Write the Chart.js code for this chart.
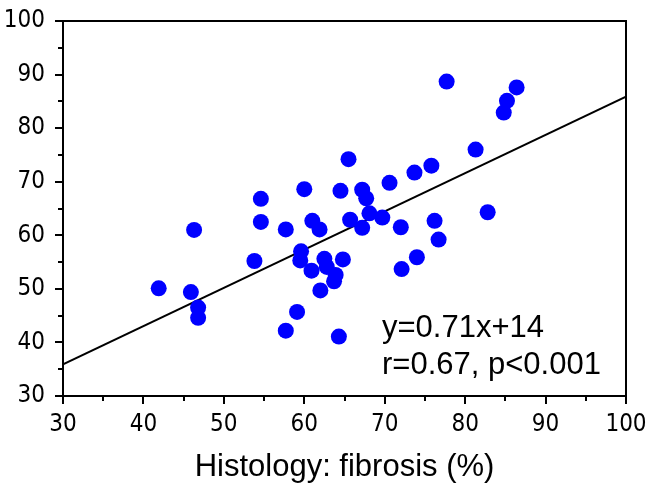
<!DOCTYPE html>
<html>
<head>
<meta charset="utf-8">
<script src="https://cdn.jsdelivr.net/npm/chart.js@4"></script>
<style>
  html, body { margin: 0; padding: 0; background: #fff; }
  canvas { display: block; }
</style>
</head>
<body>
<canvas id="c" width="646" height="486"></canvas>
<script>
// histology fibrosis (%) and the measured value, one entry per patient
const fibrosisX = [41.9, 45.9, 46.3, 46.8, 46.8, 53.8, 54.6, 54.6, 57.7, 57.7,
  59.1, 59.6, 59.5, 60.0, 61.0, 61.9, 60.9, 62.0, 62.5, 62.8,
  63.7, 63.9, 64.3, 64.5, 64.8, 65.5, 65.7, 67.2, 67.7, 67.2,
  68.1, 69.7, 70.6, 72.0, 72.1, 73.7, 74.0, 75.8, 76.2, 76.7,
  77.7, 81.3, 82.8, 84.8, 85.2, 86.4]
const measuredY = [50.1, 49.4, 61.0, 46.5, 44.6, 55.2, 66.8, 62.5, 61.1, 42.2,
  45.7, 57.0, 55.3, 68.6, 62.7, 61.1, 53.4, 49.7, 55.6, 54.1,
  51.4, 52.6, 41.1, 68.3, 55.5, 74.2, 62.9, 68.5, 66.9, 61.4,
  64.1, 63.3, 69.8, 61.5, 53.7, 71.7, 55.9, 73.0, 62.7, 59.2,
  88.7, 76.0, 64.3, 82.9, 85.1, 87.6]

// regression line end points as drawn
const fitX = [30, 100]
const fitY = [35.9, 85.9]

const axisMin = 30
const axisMax = 100
const majorStep = 10
const minorStep = 5

const fitLabel = 'y=0.71x+14'
const statLabel = 'r=0.67, p<0.001'
const xTitle = 'Histology: fibrosis (%)'

const FONT = '"Liberation Sans", Arial, sans-serif'
const TICK_FONT = '"Liberation Sans Narrow", "DejaVu Sans Condensed", "Liberation Sans", sans-serif'

// box round the plot, plus major / minor tick marks and the fit text
const frameAndTicks = {
  id: 'frameAndTicks',
  afterDatasetsDraw(chart) {
    const { ctx, chartArea: a, scales: { x, y } } = chart
    ctx.save()
    ctx.strokeStyle = '#000'
    ctx.lineWidth = 2
    ctx.strokeRect(a.left, a.top, a.right - a.left, a.bottom - a.top)

    ctx.beginPath()
    for (let v = axisMin; v <= axisMax; v += minorStep) {
      const len = v % majorStep === 0 ? 8 : 5
      const px = Math.round(x.getPixelForValue(v))
      ctx.moveTo(px, a.bottom)
      ctx.lineTo(px, a.bottom + len)
      const py = Math.round(y.getPixelForValue(v))
      ctx.moveTo(a.left, py)
      ctx.lineTo(a.left - len, py)
    }
    ctx.stroke()

    ctx.fillStyle = '#000'
    ctx.font = '31px ' + FONT
    ctx.textAlign = 'left'
    ctx.textBaseline = 'alphabetic'
    ctx.fillText(fitLabel, 382, 337)
    ctx.fillText(statLabel, 382, 374)
    ctx.restore()
  }
}

const points = fibrosisX.map((v, i) => ({ x: v, y: measuredY[i] }))
const fitLine = fitX.map((v, i) => ({ x: v, y: fitY[i] }))

new Chart(document.getElementById('c'), {
  type: 'scatter',
  data: {
    datasets: [
      {
        data: points,
        pointRadius: 8,
        pointHoverRadius: 8,
        pointBackgroundColor: '#0000ff',
        pointBorderWidth: 0
      },
      {
        data: fitLine,
        showLine: true,
        pointRadius: 0,
        borderColor: '#000',
        borderWidth: 2
      }
    ]
  },
  options: {
    responsive: false,
    animation: false,
    layout: { padding: { top: 21, right: 20, bottom: 0, left: 0 } },
    plugins: { legend: { display: false }, tooltip: { enabled: false } },
    scales: {
      x: {
        type: 'linear',
        min: axisMin,
        max: axisMax,
        grid: { display: false, drawTicks: false },
        border: { display: false },
        ticks: { stepSize: majorStep, color: '#000', font: { family: TICK_FONT, size: 24 }, padding: 14, maxRotation: 0 },
        title: { display: true, text: xTitle, color: '#000', font: { family: FONT, size: 31 }, padding: { top: 0, bottom: 0 } },
        afterFit(s) {
          s.height = 90
          s.paddingLeft = 0
          s.paddingRight = 0
        }
      },
      y: {
        type: 'linear',
        min: axisMin,
        max: axisMax,
        grid: { display: false, drawTicks: false },
        border: { display: false },
        ticks: { stepSize: majorStep, color: '#000', font: { family: TICK_FONT, size: 24 }, padding: 18 },
        afterFit(s) {
          s.width = 63
          s.paddingTop = 0
          s.paddingBottom = 0
        }
      }
    }
  },
  plugins: [frameAndTicks]
})
</script>
</body>
</html>
